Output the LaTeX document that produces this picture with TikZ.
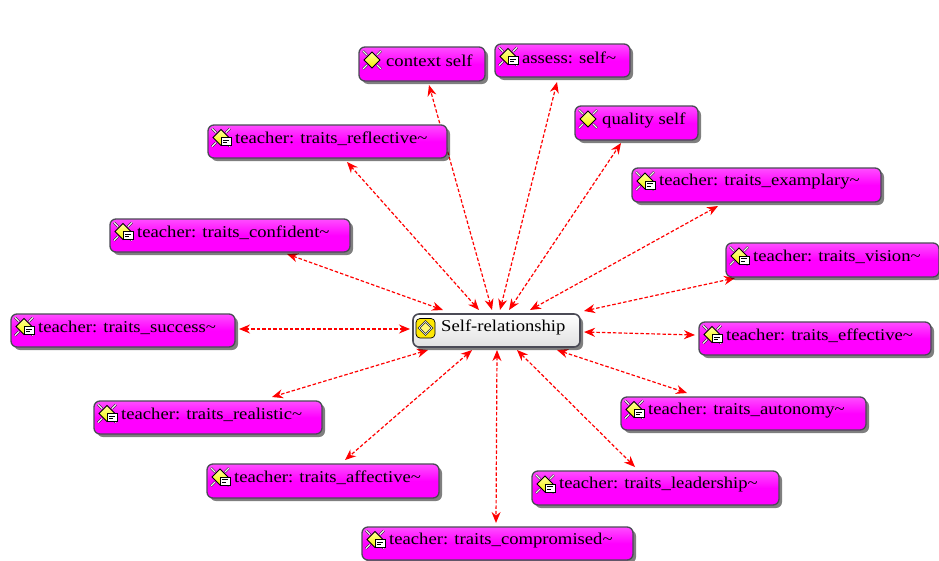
\documentclass[tikz,border=0pt]{standalone}
\usepackage{fontspec}
\setmainfont[FakeStretch=1.13]{Liberation Serif}
\usetikzlibrary{arrows.meta,shadows,backgrounds}
\definecolor{edgebord}{HTML}{4A4A55}
\tikzset{
  x=1pt,y=-1pt,
  pinkbox/.style={draw=edgebord,line width=1.3pt,rounded corners=6pt,inner sep=0pt,outer sep=0pt,
    top color=white!30!magenta,bottom color=magenta,middle color=magenta,
    drop shadow={shadow xshift=3pt,shadow yshift=-3pt,fill=black,opacity=.5}},
  selfbox/.style={draw=edgebord,line width=1.6pt,rounded corners=6pt,inner sep=0pt,outer sep=0pt,
    top color=white,bottom color=black!12,
    drop shadow={shadow xshift=3pt,shadow yshift=-3pt,fill=black,opacity=.5}},
  labeltext/.style={anchor=west,inner sep=0pt,font=\fontsize{16.5}{18}\selectfont,text=black},
  link/.style={draw=red,line width=1.2pt,dash pattern=on 3.5pt off 2pt,
    {Stealth[length=11pt,width=9pt]}-{Stealth[length=11pt,width=9pt]}},
  gemspike/.style={draw=black!85,line width=.6pt,double=white!85!gray,double distance=1.2pt},
}
\newcommand{\gem}{%
  \draw[gemspike] (-5,-5) -- (-9,-9);
  \draw[gemspike] (5,-5) -- (9,-9);
  \draw[gemspike] (-5,5) -- (-9,9);
  \draw[gemspike] (5,5) -- (9,9);
  \draw[black,line width=.8pt,top color=yellow!40!white,bottom color=yellow!95!black] (-8,0) -- (0,-8) -- (8,0) -- (0,8) -- cycle;
}
\newcommand{\memo}{%
  \draw[black,line width=.9pt,fill=white] (0,0) rectangle (10,8);
  \draw[black,line width=.6pt] (2,2.5) -- (8,2.5) (2,5) -- (6,5);
}
\newcommand{\topicnode}[7]{%
  \node[pinkbox,minimum width={#4-#2},minimum height={#5-#3}] (#1) at ({(#2+#4)/2},{(#3+#5)/2}) {};
  \begin{scope}[shift={({#2+13},{(#3+#5)/2-4})}]
  \gem
  \ifx#6m\memo\fi
  \end{scope}
  \node[labeltext] (#1-text) at ({#2+27},{(#3+#5)/2-3}) {#7};
}
\begin{document}
\begin{tikzpicture}
\useasboundingbox (0,0) rectangle (939,560);
\node[selfbox,minimum width=167,minimum height=33] (self) at (496.5,330.5) {};
\fill[yellow!90!orange,draw=black,line width=.7pt,rounded corners=4pt] (416,318.5) rectangle (435,338);
\draw[black!85,line width=1.8pt,fill=yellow!55!white] (425.5,321.5) -- (432,328) -- (425.5,334.5) -- (419,328) -- cycle;
\draw[white,line width=.6pt] (425.5,321.5) -- (432,328) -- (425.5,334.5) -- (419,328) -- cycle;
\node[labeltext] (self-text) at (441,327) {Self-relationship};
\topicnode{ctx}{359}{47}{485}{81}{g}{context self}
\topicnode{assess}{495}{44}{630}{77}{m}{assess: self\textasciitilde}
\topicnode{quality}{575}{106}{698}{140}{g}{quality self}
\topicnode{reflective}{208}{125}{447}{158}{m}{teacher: traits\_reflective\textasciitilde}
\topicnode{examplary}{632}{168}{881}{202}{m}{teacher: traits\_examplary\textasciitilde}
\topicnode{confident}{110}{219}{350}{252}{m}{teacher: traits\_confident\textasciitilde}
\topicnode{vision}{726}{243}{939}{277}{m}{teacher: traits\_vision\textasciitilde}
\topicnode{success}{11}{314}{235}{347}{m}{teacher: traits\_success\textasciitilde}
\topicnode{effective}{699}{322}{931}{355}{m}{teacher: traits\_effective\textasciitilde}
\topicnode{realistic}{94}{401}{322}{434}{m}{teacher: traits\_realistic\textasciitilde}
\topicnode{autonomy}{621}{397}{866}{430}{m}{teacher: traits\_autonomy\textasciitilde}
\topicnode{affective}{207}{464}{439}{498}{m}{teacher: traits\_affective\textasciitilde}
\topicnode{leadership}{532}{471}{779}{505}{m}{teacher: traits\_leadership\textasciitilde}
\topicnode{compromised}{362}{527}{633}{560}{m}{teacher: traits\_compromised\textasciitilde}
\begin{scope}[on background layer]
\foreach \n/\sa/\sb/\ea/\eb in {
  ctx/-4.5/-20.5/7/21,
  assess/3.5/-20.5/-5.5/21.5,
  quality/12.5/-20.5/-15.5/20,
  reflective/-17.5/-20.5/19.5/20.5,
  examplary/33.5/-20.5/-38.5/21,
  confident/-53.5/-20.5/57/18.5,
  vision/87.5/-19.5/-97.5/18,
  success/-86.5/-1.5/116/-1.5,
  effective/87.5/1.5/-120/-3.5,
  realistic/-68.5/19.5/64/-20.5,
  autonomy/60.5/19.5/-56.5/-20.5,
  affective/-24.5/19.5/22/-21,
  leadership/20.5/19.5/-20.5/-21,
  compromised/0.5/19.5/-1.5/-20.5}
  \draw[link] ([shift={(\sa,\sb)}]self.center) -- ([shift={(\ea,\eb)}]\n.center);
\end{scope}
\end{tikzpicture}
\end{document}
